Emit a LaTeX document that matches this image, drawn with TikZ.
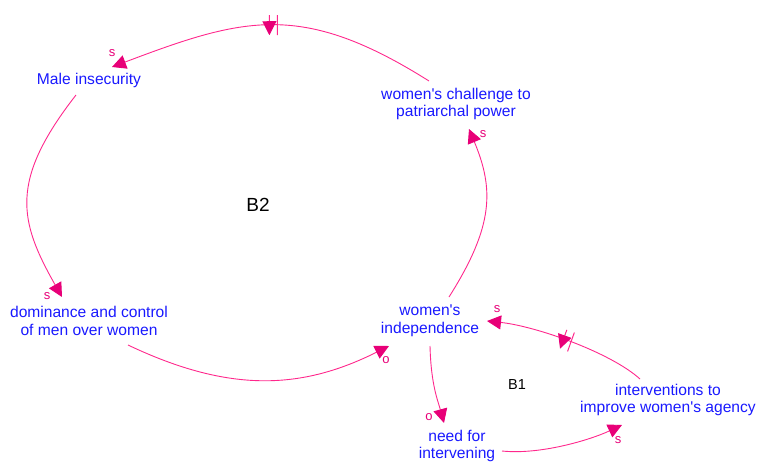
\documentclass[tikz,border=0pt]{standalone}
\usepackage{fontspec}
\setmainfont{Liberation Sans}
\usetikzlibrary{arrows.meta,calc,decorations.markings}
\definecolor{linkc}{RGB}{255,40,140}
\definecolor{tipc}{RGB}{232,0,120}
\definecolor{varc}{RGB}{25,25,255}
\newcommand{\qq}{\textquotesingle}
\tikzset{
  var/.style={text=varc,align=center,inner sep=0pt,font=\fontsize{15.6}{17.8}\selectfont},
  loopname/.style={text=black,inner sep=0pt},
  link/.style={draw=linkc,line width=0.9pt,-{Triangle[length=14pt,width=14pt,fill=tipc,color=tipc]}},
  pol/.style={text=tipc,inner sep=0pt,font=\fontsize{13}{14}\selectfont},
  delay/.style={postaction={decorate},decoration={markings,
    mark=at position #1 with {\draw[linkc,line width=1pt] (-4pt,-10pt)--(-4pt,10pt) (4pt,-10pt)--(4pt,10pt);}}}
}
\begin{document}
\begin{tikzpicture}[x=1pt,y=-1pt]
\useasboundingbox (0,0) rectangle (758,463);
\node[var] (mi) at (89,80) {Male insecurity};
\node[var] (chal) at (456,104) {women\qq s challenge to\\patriarchal power};
\node[var] (dom) at (89,321) {dominance and control\\of men over women};
\node[var] (ind) at (430,321) {women\qq s\\independence};
\node[var] (need) at (457,446) {need for\\intervening};
\node[var] (inter) at (668,400) {interventions to\\improve women\qq s agency};
\node[loopname,font=\fontsize{19}{22}\selectfont] (b2) at (258,205) {B2};
\node[loopname,font=\fontsize{14.5}{17}\selectfont] (b1) at (517,385) {B1};
% links
\draw[link,delay=0.5] ($(chal)+(-27,-23)$) .. controls +(-127,-80) and +(132,-50) .. ($(mi)+(23,-13)$);
\draw[link] ($(mi)+(-13,15)$) .. controls +(-67,86) and +(-43,-76) .. ($(dom)+(-27,-24)$);
\draw[link] ($(dom)+(39,24)$) .. controls +(103,49) and +(-86,43) .. ($(ind)+(-41,25)$);
\draw[link] ($(ind)+(19,-24)$) .. controls +(45,-71) and +(25,60) .. ($(chal)+(13,25)$);
\draw[link] ($(ind)+(0,25)$) .. controls +(1,39) and +(-6,-22) .. ($(need)+(-13,-23)$);
\draw[link] ($(need)+(45,5)$) .. controls +(38,4) and +(-32,15) .. ($(inter)+(-46,25)$);
\draw[link,delay=0.5] ($(inter)+(-28,-21)$) .. controls +(-30,-27) and +(48,5) .. ($(ind)+(57,0)$);
% polarities
\node[pol] (p1) at (112,53) {s};
\node[pol] (p2) at (47,296) {s};
\node[pol] (p3) at (386,360) {o};
\node[pol] (p4) at (483,134) {s};
\node[pol] (p5) at (429,417) {o};
\node[pol] (p6) at (618,440) {s};
\node[pol] (p7) at (497,309) {s};
\end{tikzpicture}
\end{document}
